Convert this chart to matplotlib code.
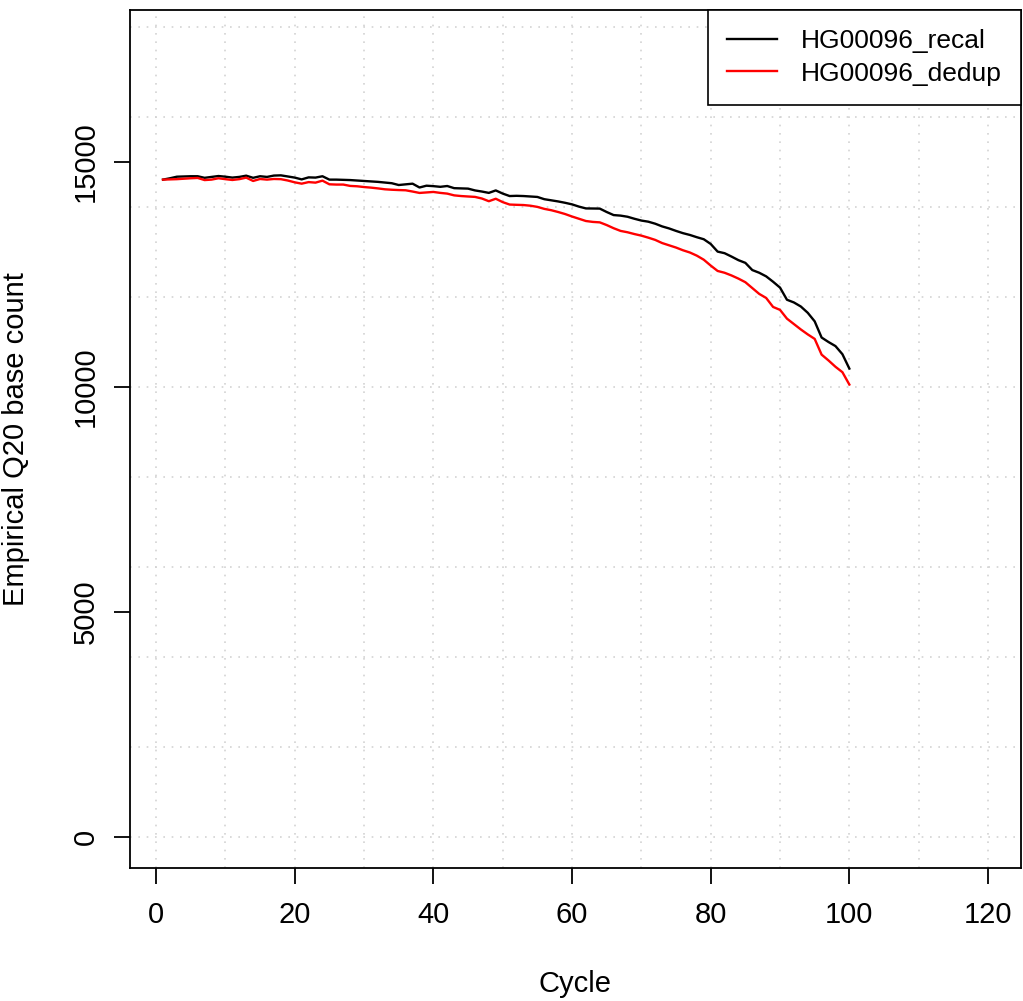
import matplotlib
matplotlib.use("Agg")
import matplotlib.pyplot as plt

plt.rcParams['font.family'] = ['Liberation Sans', 'DejaVu Sans']

cycles = list(range(1, 101))

recal = [14610, 14640, 14675, 14680, 14685, 14685, 14650, 14670, 14690, 14675,
         14655, 14670, 14698, 14650, 14685, 14670, 14700, 14705, 14680, 14655,
         14615, 14660, 14655, 14685, 14610, 14610, 14605, 14600, 14590, 14580,
         14570, 14560, 14545, 14530, 14490, 14505, 14520, 14435, 14475, 14465,
         14450, 14468, 14420, 14415, 14410, 14370, 14345, 14315, 14370, 14300,
         14245, 14250, 14245, 14235, 14225, 14175, 14150, 14125, 14095, 14060,
         14010, 13970, 13968, 13966, 13890, 13822, 13810, 13785, 13740, 13700,
         13675, 13630, 13570, 13525, 13470, 13420, 13380, 13330, 13285, 13180,
         13010, 12975, 12900, 12820, 12760, 12600, 12540, 12460, 12340, 12210,
         11940, 11880, 11790, 11650, 11460, 11100, 11000, 10910, 10730, 10410]

dedup = [14610, 14615, 14620, 14630, 14640, 14647, 14600, 14610, 14640, 14620,
         14602, 14620, 14654, 14580, 14624, 14610, 14624, 14620, 14590, 14550,
         14520, 14555, 14543, 14587, 14506, 14500, 14500, 14470, 14462, 14445,
         14432, 14415, 14395, 14385, 14378, 14373, 14345, 14314, 14325, 14336,
         14315, 14299, 14260, 14245, 14235, 14226, 14190, 14130, 14185, 14110,
         14056, 14050, 14045, 14030, 14004, 13960, 13930, 13890, 13845, 13790,
         13740, 13690, 13670, 13660, 13600, 13530, 13470, 13440, 13400, 13365,
         13320, 13270, 13200, 13150, 13100, 13040, 12990, 12920, 12830, 12700,
         12580, 12540, 12480, 12410, 12330, 12200, 12070, 11980, 11780, 11715,
         11520, 11400, 11280, 11170, 11070, 10720, 10590, 10450, 10330, 10055]

series_names = ["HG00096_recal", "HG00096_dedup"]
series_colors = ["black", "red"]

fig = plt.figure(figsize=(10.23, 10.01), dpi=100)
ax = fig.add_axes([130/1023, 133/1001, 891/1023, 858/1001])

# R-style dotted grid
for gx in range(0, 121, 10):
    ax.axvline(gx, color="lightgray", linestyle=(0, (1, 4)), linewidth=1.2, zorder=0)
for gy in range(0, 18001, 2000):
    ax.axhline(gy, color="lightgray", linestyle=(0, (1, 4)), linewidth=1.2, zorder=0)

for vals, name, col in zip([recal, dedup], series_names, series_colors):
    ax.plot(cycles, vals, color=col, linewidth=1.7, label=name)

ax.set_xlim(-3.76, 124.76)
ax.set_ylim(-690, 18380)
ax.set_xticks(range(0, 121, 20))
ax.set_yticks([0, 5000, 10000, 15000])
ax.tick_params(axis="both", direction="out", length=11.5, width=1.3, labelsize=21)
ax.tick_params(axis="x", pad=12)
ax.tick_params(axis="y", pad=10)
for lab in ax.get_yticklabels():
    lab.set_rotation(90)
    lab.set_va("center")
for sp in ax.spines.values():
    sp.set_linewidth(1.3)

ax.set_xlabel("Cycle", fontsize=21, labelpad=30)
ax.set_ylabel("Empirical Q20 base count", fontsize=21, labelpad=30)

leg = ax.legend(loc="upper right", borderaxespad=0, fancybox=False, framealpha=1,
                edgecolor="black", fontsize=19, handlelength=1.9, handletextpad=0.9,
                borderpad=0.72, labelspacing=0.33)
leg.get_frame().set_linewidth(1.2)

fig.savefig("out.png", dpi=100)
